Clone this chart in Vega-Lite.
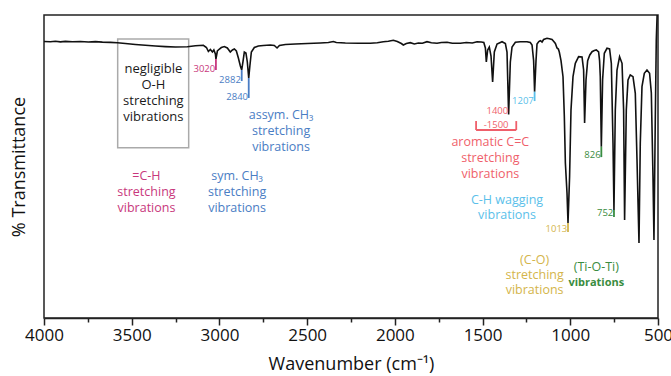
{
"$schema": "https://vega.github.io/schema/vega-lite/v6.json",
"width": 614, "height": 303,
"autosize": {"type": "none"},
"padding": {"left": 44, "top": 15, "right": 13, "bottom": 58},
"background": "white",
"config": {"font": "Open Sans", "view": {"stroke": "#222222", "strokeWidth": 1.5}},
"datasets": {
"spectrum": [
{"wn":4000,"T":91.25},{"wn":3963.5,"T":91.15},{"wn":3935,"T":91.32},{"wn":3906.5,"T":91.12},{"wn":3878,"T":91.29},{"wn":3838,"T":91.15},{"wn":3792.5,"T":91.25},{"wn":3747,"T":91.09},{"wn":3707,"T":91.22},{"wn":3667,"T":91.06},{"wn":3621.6,"T":90.96},{"wn":3581.7,"T":90.82},{"wn":3536,"T":90.59},{"wn":3479,"T":90.26},{"wn":3422,"T":90.0},{"wn":3365,"T":89.77},{"wn":3308,"T":89.57},{"wn":3251,"T":89.44},{"wn":3183,"T":89.54},{"wn":3137,"T":89.83},{"wn":3091.5,"T":90.0},{"wn":3074,"T":89.27},{"wn":3063,"T":87.95},{"wn":3051.6,"T":88.61},{"wn":3040,"T":87.79},{"wn":3031.7,"T":88.45},{"wn":3023,"T":87.13},{"wn":3020,"T":85.48},{"wn":3011.7,"T":88.12},{"wn":3000,"T":88.78},{"wn":2989,"T":89.27},{"wn":2972,"T":89.6},{"wn":2955,"T":89.11},{"wn":2938,"T":87.79},{"wn":2926,"T":88.45},{"wn":2915,"T":88.78},{"wn":2903.5,"T":88.12},{"wn":2892,"T":85.81},{"wn":2880.7,"T":83.17},{"wn":2873,"T":81.85},{"wn":2866,"T":84.49},{"wn":2858,"T":87.79},{"wn":2849,"T":87.46},{"wn":2841,"T":84.49},{"wn":2833,"T":79.21},{"wn":2826.5,"T":83.17},{"wn":2818,"T":87.79},{"wn":2801,"T":89.27},{"wn":2778,"T":89.77},{"wn":2749.6,"T":89.93},{"wn":2709.7,"T":90.1},{"wn":2687,"T":89.93},{"wn":2671.5,"T":89.11},{"wn":2658,"T":89.93},{"wn":2624,"T":90.26},{"wn":2567,"T":90.43},{"wn":2499,"T":90.59},{"wn":2425,"T":90.76},{"wn":2379,"T":90.92},{"wn":2350.6,"T":91.25},{"wn":2333.5,"T":90.92},{"wn":2282,"T":90.76},{"wn":2208,"T":90.66},{"wn":2139.7,"T":90.66},{"wn":2100,"T":90.86},{"wn":2065.7,"T":91.15},{"wn":2037,"T":91.35},{"wn":2008.7,"T":91.68},{"wn":1986,"T":91.25},{"wn":1963,"T":90.59},{"wn":1951.7,"T":90.1},{"wn":1934.6,"T":90.59},{"wn":1911.8,"T":90.86},{"wn":1889,"T":90.43},{"wn":1866,"T":90.76},{"wn":1843,"T":90.66},{"wn":1816.6,"T":91.19},{"wn":1792,"T":90.82},{"wn":1759.6,"T":90.66},{"wn":1735,"T":90.92},{"wn":1702.6,"T":90.99},{"wn":1672.4,"T":90.66},{"wn":1626.8,"T":90.66},{"wn":1592.6,"T":90.92},{"wn":1558.4,"T":90.76},{"wn":1531.6,"T":91.19},{"wn":1507,"T":91.09},{"wn":1493,"T":90.92},{"wn":1484,"T":89.11},{"wn":1478.6,"T":84.49},{"wn":1471,"T":88.45},{"wn":1461.6,"T":89.44},{"wn":1451.8,"T":86.47},{"wn":1442.7,"T":77.89},{"wn":1433,"T":87.79},{"wn":1417.6,"T":90.43},{"wn":1389,"T":91.19},{"wn":1370,"T":90.59},{"wn":1360.7,"T":87.79},{"wn":1351.5,"T":67.2},{"wn":1341.8,"T":84.49},{"wn":1332,"T":89.44},{"wn":1313,"T":90.99},{"wn":1285,"T":91.19},{"wn":1246.7,"T":91.19},{"wn":1228,"T":90.92},{"wn":1218,"T":90.1},{"wn":1209,"T":84.95},{"wn":1203.4,"T":74.69},{"wn":1195.4,"T":84.95},{"wn":1189.7,"T":90.43},{"wn":1179.4,"T":91.25},{"wn":1171,"T":91.52},{"wn":1161,"T":91.09},{"wn":1152,"T":91.91},{"wn":1132.7,"T":92.31},{"wn":1119.6,"T":92.15},{"wn":1104,"T":91.91},{"wn":1094,"T":91.25},{"wn":1085,"T":90.59},{"wn":1075.7,"T":89.11},{"wn":1068,"T":88.78},{"wn":1062.6,"T":87.79},{"wn":1052.9,"T":84.95},{"wn":1041.5,"T":79.64},{"wn":1034,"T":66.67},{"wn":1028,"T":51.16},{"wn":1018.7,"T":41.25},{"wn":1013,"T":31.35},{"wn":1008.5,"T":38.94},{"wn":1004,"T":46.63},{"wn":996,"T":68.65},{"wn":984.5,"T":79.64},{"wn":971.4,"T":84.06},{"wn":952.6,"T":86.24},{"wn":933,"T":86.14},{"wn":924,"T":81.85},{"wn":918.4,"T":64.36},{"wn":910.4,"T":78.55},{"wn":901,"T":84.95},{"wn":888.8,"T":86.8},{"wn":876,"T":87.89},{"wn":863,"T":88.28},{"wn":851.7,"T":88.45},{"wn":838.6,"T":87.79},{"wn":833,"T":84.95},{"wn":829,"T":79.64},{"wn":823,"T":56.53},{"wn":815.8,"T":78.55},{"wn":806,"T":87.36},{"wn":790.7,"T":89.01},{"wn":776,"T":88.78},{"wn":766,"T":84.06},{"wn":756.5,"T":57.76},{"wn":751,"T":35.64},{"wn":743.4,"T":68.65},{"wn":733.7,"T":81.85},{"wn":719,"T":86.24},{"wn":705,"T":84.06},{"wn":696,"T":68.65},{"wn":690.4,"T":32.34},{"wn":680.7,"T":68.65},{"wn":671,"T":78.55},{"wn":658,"T":80.2},{"wn":642.5,"T":79.64},{"wn":629.4,"T":74.16},{"wn":619.8,"T":52.49},{"wn":608.4,"T":24.75},{"wn":601,"T":57.76},{"wn":591.3,"T":76.34},{"wn":578,"T":80.76},{"wn":562.8,"T":81.85},{"wn":548,"T":80.76},{"wn":538,"T":74.26},{"wn":528.6,"T":46.63},{"wn":523,"T":25.74},{"wn":515.5,"T":65.35},{"wn":509.8,"T":91.75},{"wn":504,"T":101.65}
],
"rules": [
{"wn":3020,"wn2":3020,"T":85.48,"T2":81.85,"group":"CH"},
{"wn":2873,"wn2":2873,"T":81.85,"T2":78.2,"group":"CH3"},
{"wn":2833,"wn2":2833,"T":79.21,"T2":72.6,"group":"CH3"},
{"wn":1203.4,"wn2":1203.4,"T":74.69,"T2":71.6,"group":"wag"},
{"wn":1013,"wn2":1013,"T":31.35,"T2":28.4,"group":"CO"},
{"wn":823,"wn2":823,"T":56.53,"T2":53.1,"group":"TiO"},
{"wn":751,"wn2":751,"T":35.64,"T2":33.3,"group":"TiO"},
{"wn":1537,"wn2":1537,"T":65.0,"T2":62.05,"group":"aro"},
{"wn":1537,"wn2":1308,"T":62.05,"T2":62.05,"group":"aro"},
{"wn":1308,"wn2":1308,"T":65.0,"T2":62.05,"group":"aro"}
],
"box": [{"wn":3580,"wn2":3175.3,"T":92.08,"T2":56.2}],
"labels": [
{"kind":"black","group":"OH","text":"negligible|O-H|stretching|vibrations","wn":3376.5,"T":82.08},
{"kind":"ann","group":"CH","text":"=C-H|stretching|vibrations","wn":3416,"T":46.9},
{"kind":"ann","group":"CH3","text":"sym. CH₃|stretching|vibrations","wn":2899.5,"T":46.9},
{"kind":"ann","group":"CH3","text":"assym. CH₃|stretching|vibrations","wn":2648.7,"T":67.0},
{"kind":"ann","group":"aro","text":"aromatic C=C|stretching|vibrations","wn":1455.8,"T":58.18},
{"kind":"ann2","group":"wag","text":"C-H wagging|vibrations","wn":1360.7,"T":38.94},
{"kind":"ann2","group":"CO","text":"(C-O)|stretching|vibrations","wn":1203.4,"T":19.14},
{"kind":"ann","group":"TiO","text":"(Ti-O-Ti)","wn":851.7,"T":16.73},
{"kind":"annb","group":"TiO","text":"vibrations","wn":851.7,"T":11.65},
{"kind":"num","group":"CH","text":"3020","wn":3024,"T":82.18},
{"kind":"num","group":"CH3","text":"2882","wn":2878,"T":78.55},
{"kind":"num","group":"CH3","text":"2840","wn":2837,"T":73.04},
{"kind":"num","group":"wag","text":"1207","wn":1208,"T":71.72},
{"kind":"num","group":"aro","text":"1400","wn":1354,"T":68.32},
{"kind":"num","group":"CO","text":"1013","wn":1017,"T":29.21},
{"kind":"num","group":"TiO","text":"826","wn":827,"T":53.79},
{"kind":"num","group":"TiO","text":"752","wn":755,"T":34.49},
{"kind":"numc","group":"aro","text":"-1500","wn":1422.8,"T":63.7}
]
},
"encoding": {
"x": {"field":"wn","type":"quantitative","scale":{"domain":[500,4000],"reverse":true,"nice":false,"zero":false},
  "axis":{"title":"Wavenumber (cm⁻¹)","values":[4000,3750,3500,3250,3000,2750,2500,2250,2000,1750,1500,1250,1000,750,500],"format":"d",
  "labelExpr":"datum.value % 500 === 0 ? datum.label : ''",
  "tickSize":{"condition":{"test":"datum.value % 500 === 0","value":7},"value":4},
  "labelFontSize":17,"labelColor":"#111111","labelFlush":false,"labelOverlap":false,"tickColor":"#222222","tickWidth":1.5,"domainColor":"#222222","domainWidth":1.5,"grid":false,"titleFontSize":18,"titleFontWeight":"normal","titleColor":"#111111","titlePadding":12}},
"y": {"field":"T","type":"quantitative","scale":{"domain":[0,100],"nice":false,"zero":false},
  "axis":{"title":"% Transmittance","ticks":false,"labels":false,"domain":false,"grid":false,"titleFontSize":18,"titleFontWeight":"normal","titleColor":"#111111","titlePadding":16}}
},
"layer": [
{"data":{"name":"box"},"mark":{"type":"rect","fill":"white","fillOpacity":0,"stroke":"#aaaaaa","strokeWidth":1.5},
 "encoding":{"x2":{"field":"wn2"},"y2":{"field":"T2"}}},
{"data":{"name":"spectrum"},"mark":{"type":"line","color":"#111111","strokeWidth":1.6,"clip":true}},
{"data":{"name":"rules"},"mark":{"type":"rule","strokeWidth":1.8},
 "encoding":{"x2":{"field":"wn2"},"y2":{"field":"T2"},
  "color":{"field":"group","type":"nominal","legend":null,"scale":{"domain":["OH","CH","CH3","aro","wag","CO","TiO"],"range":["#1a1a1a","#c8387c","#4a7dc4","#ef5f6b","#5bbfea","#d4b54a","#3a8c40"]}}}},
{"data":{"name":"labels"},"transform":[{"filter":"datum.kind === 'num'"}],"mark":{"type":"text","align":"right","baseline":"middle","fontSize":9.5},
 "encoding":{"text":{"field":"text"},"color":{"field":"group","type":"nominal","legend":null,"scale":{"domain":["OH","CH","CH3","aro","wag","CO","TiO"],"range":["#1a1a1a","#c8387c","#4a7dc4","#ef5f6b","#5bbfea","#d4b54a","#3a8c40"]}}}},
{"data":{"name":"labels"},"transform":[{"filter":"datum.kind === 'numc'"}],"mark":{"type":"text","align":"center","baseline":"middle","fontSize":9.5},
 "encoding":{"text":{"field":"text"},"color":{"field":"group","type":"nominal","legend":null,"scale":{"domain":["OH","CH","CH3","aro","wag","CO","TiO"],"range":["#1a1a1a","#c8387c","#4a7dc4","#ef5f6b","#5bbfea","#d4b54a","#3a8c40"]}}}},
{"data":{"name":"labels"},"transform":[{"filter":"datum.kind === 'ann'"}],"mark":{"type":"text","align":"center","baseline":"middle","fontSize":12.5,"lineBreak":"|","lineHeight":15.9},
 "encoding":{"text":{"field":"text"},"color":{"field":"group","type":"nominal","legend":null,"scale":{"domain":["OH","CH","CH3","aro","wag","CO","TiO"],"range":["#1a1a1a","#c8387c","#4a7dc4","#ef5f6b","#5bbfea","#d4b54a","#3a8c40"]}}}},
{"data":{"name":"labels"},"transform":[{"filter":"datum.kind === 'ann2'"}],"mark":{"type":"text","align":"center","baseline":"middle","fontSize":12.5,"lineBreak":"|","lineHeight":15},
 "encoding":{"text":{"field":"text"},"color":{"field":"group","type":"nominal","legend":null,"scale":{"domain":["OH","CH","CH3","aro","wag","CO","TiO"],"range":["#1a1a1a","#c8387c","#4a7dc4","#ef5f6b","#5bbfea","#d4b54a","#3a8c40"]}}}},
{"data":{"name":"labels"},"transform":[{"filter":"datum.kind === 'annb'"}],"mark":{"type":"text","align":"center","baseline":"middle","fontSize":11,"fontWeight":"bold"},
 "encoding":{"text":{"field":"text"},"color":{"field":"group","type":"nominal","legend":null,"scale":{"domain":["OH","CH","CH3","aro","wag","CO","TiO"],"range":["#1a1a1a","#c8387c","#4a7dc4","#ef5f6b","#5bbfea","#d4b54a","#3a8c40"]}}}},
{"data":{"name":"labels"},"transform":[{"filter":"datum.kind === 'black'"}],"mark":{"type":"text","align":"center","baseline":"middle","fontSize":13,"lineBreak":"|","lineHeight":15.8},
 "encoding":{"text":{"field":"text"},"color":{"field":"group","type":"nominal","legend":null,"scale":{"domain":["OH","CH","CH3","aro","wag","CO","TiO"],"range":["#1a1a1a","#c8387c","#4a7dc4","#ef5f6b","#5bbfea","#d4b54a","#3a8c40"]}}}}
]
}
